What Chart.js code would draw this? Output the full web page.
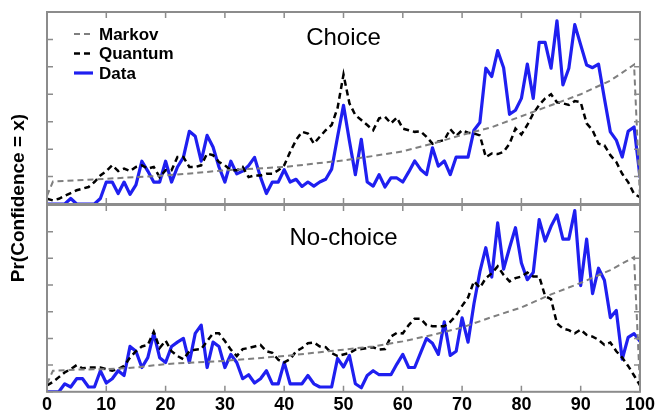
<!DOCTYPE html>
<html>
<head>
<meta charset="utf-8">
<script src="https://cdn.jsdelivr.net/npm/chart.js@4.4.1/dist/chart.umd.min.js"></script>
<style>
html, body { margin: 0; padding: 0; background: #fff; overflow: hidden; }
#wrap { position: relative; width: 666px; height: 418px; }
#wrap canvas { position: absolute; left: 0; top: 0; }
</style>
</head>
<body>
<div id="wrap">
  <canvas id="noChoiceChart" width="666" height="418"></canvas>
  <canvas id="choiceChart" width="666" height="418"></canvas>
</div>
<script>
// confidence levels on the x axis
const confidence = Array.from({length: 101}, (_, i) => i);
const xTicks = [0, 10, 20, 30, 40, 50, 60, 70, 80, 90, 100];
const yTicks = [0, 1, 2, 3, 4, 5, 6, 7]; // unlabelled tick marks

// ---- Choice panel ----
const choiceData = [
  0, 0, 0, 0, 0.2, 0, 0, 0, 0, 0.2,
  0.8, 0.8, 0.38, 0.8, 0.35, 0.7, 1.56, 1.2, 0.8, 0.8,
  1.56, 0.8, 1.35, 1.7, 2.65, 2.47, 1.56, 2.5, 2.08, 1.35,
  0.8, 1.56, 1.1, 1.2, 1.4, 1.7, 0.98, 0.38, 0.8, 0.8,
  1.25, 0.8, 0.9, 0.64, 0.8, 0.65, 0.8, 0.9, 1.27, 2.45,
  3.6, 2.3, 1.07, 2.36, 0.8, 0.65, 1.07, 0.62, 0.95, 0.95,
  0.8, 1.17, 1.57, 1.26, 1.07, 2.05, 1.38, 1.57, 1.07, 1.71,
  1.71, 1.71, 2.69, 2.97, 4.95, 4.65, 5.59, 4.97, 3.27, 3.42,
  3.85, 5.1, 3.85, 5.89, 5.89, 4.95, 6.68, 4.34, 4.95, 6.54,
  5.8, 5.07, 4.97, 5.1, 3.85, 2.63, 2.33, 1.71, 2.65, 2.81,
  0.98
];
const choiceQuantum = [
  0.19, 0.13, 0.19, 0.3, 0.4, 0.5, 0.56, 0.62, 0.8, 1.04,
  1.2, 1.41, 1.2, 1.29, 1.2, 1.35, 1.41, 1.29, 1.35, 0.98,
  1.23, 1.23, 1.71, 1.71, 1.35, 1.35, 1.41, 1.84, 1.78, 1.53,
  1.41, 1.23, 1.23, 1.35, 0.98, 1.04, 1.04, 1.1, 1.1, 1.23,
  1.41, 1.9, 2.33, 2.63, 2.57, 2.2, 2.45, 2.69, 2.88, 3.5,
  4.72, 3.67, 3.24, 3.06, 2.88, 2.69, 3.12, 3.18, 2.94, 3.15,
  2.75, 2.69, 2.63, 2.65, 2.45, 2.2, 2.28, 2.33, 2.73, 2.48,
  2.69, 2.6, 2.57, 2.5, 1.71, 1.84, 1.82, 1.9, 2.2, 2.75,
  2.53, 2.88, 3.3, 3.61, 3.85, 4.0, 3.71, 3.67, 3.61, 3.75,
  3.71, 2.94, 2.69, 2.2, 2.14, 1.78, 1.53, 1.1, 0.8, 0.37,
  0.25
];
const markovX = [0, 1, 5, 10, 15, 20, 25, 30, 35, 40, 45, 50, 55, 60, 65, 70, 75, 80, 85, 90, 95, 99, 100];
const choiceMarkov = [0.3, 0.82, 0.86, 0.92, 0.98, 1.04, 1.13, 1.23, 1.29, 1.35, 1.47, 1.59, 1.75, 1.92, 2.2, 2.52, 2.8, 3.2, 3.6, 4.0, 4.5, 5.08, 0.2];

// ---- No-choice panel ----
const noChoiceData = [
  0, 0, 0, 0.3, 0.18, 0.49, 0.49, 0.18, 0.18, 0.79,
  0.33, 0.49, 0.79, 0.61, 1.7, 1.52, 0.91, 1.28, 2.19, 1.28,
  1.1, 1.7, 1.86, 2.0, 1.1, 2.19, 2.5, 0.91, 1.86, 1.7,
  0.91, 1.4, 1.1, 0.49, 0.64, 0.33, 0.49, 0.79, 0.3, 0.3,
  1.1, 0.3, 0.3, 0.3, 0.61, 0.3, 0.18, 0.18, 0.18, 1.25,
  0.93, 1.36, 0.3, 0.15, 0.61, 0.79, 0.64, 0.64, 0.64, 1.04,
  1.4, 0.91, 0.91, 1.46, 2.0, 1.82, 1.4, 2.62, 1.36, 1.52,
  2.77, 1.86, 3.3, 4.5, 5.4, 4.3, 6.33, 4.6, 5.4, 6.15,
  4.83, 4.2, 4.47, 6.45, 5.65, 6.2, 6.63, 5.72, 5.72, 6.79,
  3.98, 5.72, 3.68, 4.63, 4.18, 2.78, 3.05, 1.22, 2.04, 2.18,
  1.89
];
const noChoiceQuantum = [
  0.24, 0.37, 0.55, 0.73, 0.85, 1.0, 0.88, 0.91, 0.91, 0.91,
  0.85, 0.79, 0.85, 0.97, 1.28, 1.52, 1.7, 1.76, 2.25, 1.64,
  1.92, 1.52, 1.34, 1.22, 1.52, 1.58, 1.6, 1.9, 2.19, 2.19,
  1.9, 1.58, 1.34, 1.6, 1.64, 1.7, 1.76, 1.52, 1.46, 1.2,
  1.1, 1.22, 1.52, 1.64, 1.82, 1.85, 1.7, 1.67, 1.45, 1.34,
  1.4, 1.45, 1.58, 1.6, 1.64, 1.67, 1.58, 1.6, 2.07, 2.21,
  2.19, 2.5, 2.74, 2.74, 2.5, 2.46, 2.46, 2.46, 2.62, 2.86,
  3.22, 3.53, 4.14, 3.9, 4.26, 4.44, 4.7, 4.38, 4.14, 4.26,
  4.32, 4.47, 4.32, 4.32, 3.59, 3.47, 2.56, 2.37, 2.31, 2.19,
  2.33, 2.13, 2.07, 1.95, 1.76, 1.85, 1.52, 1.28, 0.97, 0.61,
  0.24
];
const noChoiceMarkov = [0.3, 0.79, 0.83, 0.85, 0.91, 1.04, 1.1, 1.16, 1.25, 1.34, 1.46, 1.58, 1.7, 1.89, 2.13, 2.41, 2.8, 3.16, 3.65, 4.08, 4.56, 5.05, 0.2];

const legendItems = [
  {label: 'Markov', color: '#7f7f7f', width: 2, dash: [6, 4]},
  {label: 'Quantum', color: '#000000', width: 2.5, dash: [6, 4]},
  {label: 'Data', color: '#1f1ff0', width: 3.2, dash: []}
];

const FRAME = '#8c8c8c';

// frame, inward ticks, panel title (and legend + y title on the top panel)
const panelDecor = {
  id: 'panelDecor',
  afterDraw(chart, args, opts) {
    const {ctx, chartArea: a, scales} = chart;
    const x = scales.x, y = scales.y;
    ctx.save();
    ctx.strokeStyle = FRAME;
    ctx.lineWidth = 2;
    ctx.strokeRect(a.left, a.top, a.right - a.left, a.bottom - a.top);
    ctx.lineWidth = 1.5;
    ctx.beginPath();
    xTicks.forEach(v => {
      const px = x.getPixelForValue(v);
      ctx.moveTo(px, a.top); ctx.lineTo(px, a.top + 6);
      ctx.moveTo(px, a.bottom); ctx.lineTo(px, a.bottom - 6);
    });
    yTicks.forEach(v => {
      const py = y.getPixelForValue(v);
      ctx.moveTo(a.left, py); ctx.lineTo(a.left + 6, py);
      ctx.moveTo(a.right, py); ctx.lineTo(a.right - 6, py);
    });
    ctx.stroke();

    ctx.fillStyle = '#000';
    ctx.font = '24px Arial, "Liberation Sans"';
    ctx.textAlign = 'center';
    ctx.textBaseline = 'alphabetic';
    ctx.fillText(opts.title, x.getPixelForValue(50), a.top + opts.titleOffset);

    if (opts.legend) {
      ctx.font = 'bold 17px Arial, "Liberation Sans"';
      ctx.textAlign = 'left';
      ctx.textBaseline = 'middle';
      legendItems.forEach((it, i) => {
        const ly = 34 + i * 19.5;
        ctx.strokeStyle = it.color;
        ctx.lineWidth = it.width;
        ctx.setLineDash(it.dash);
        ctx.beginPath();
        ctx.moveTo(74, ly); ctx.lineTo(93, ly);
        ctx.stroke();
        ctx.setLineDash([]);
        ctx.fillText(it.label, 99, ly + 1);
      });
    }
    if (opts.yTitle) {
      ctx.translate(19, 198);
      ctx.rotate(-Math.PI / 2);
      ctx.font = 'bold 19px Arial, "Liberation Sans"';
      ctx.textAlign = 'center';
      ctx.textBaseline = 'middle';
      ctx.fillText(opts.yTitle, 0, 0);
    }
    ctx.restore();
  }
};

function buildDatasets(data, quantum, markov) {
  return [
    {
      label: 'Markov',
      data: markovX.map((c, i) => ({x: c, y: markov[i]})),
      borderColor: '#7f7f7f', borderWidth: 2, borderDash: [6, 4]
    },
    {
      label: 'Quantum',
      data: confidence.map((c, i) => ({x: c, y: quantum[i]})),
      borderColor: '#000000', borderWidth: 2.5, borderDash: [6, 4]
    },
    {
      label: 'Data',
      data: confidence.map((c, i) => ({x: c, y: data[i]})),
      borderColor: '#1f1ff0', borderWidth: 3.2, borderJoinStyle: 'round', borderCapStyle: 'round'
    }
  ];
}

function buildOptions(padding, showX, decor) {
  return {
    responsive: false,
    animation: false,
    devicePixelRatio: 1,
    layout: {padding: padding},
    elements: {point: {radius: 0}, line: {tension: 0}},
    plugins: {legend: {display: false}, tooltip: {enabled: false}, panelDecor: decor},
    scales: {
      x: {
        type: 'linear', min: 0, max: 100, display: showX,
        grid: {display: false, drawTicks: false},
        border: {display: false},
        ticks: {
          stepSize: 10, maxRotation: 0, autoSkip: false, padding: 5, color: '#000',
          font: {family: 'Arial, "Liberation Sans"', size: 18, weight: 'bold', lineHeight: 0.9}
        }
      },
      y: {min: 0, max: 7, display: false}
    }
  };
}

new Chart(document.getElementById('choiceChart'), {
  type: 'line',
  data: {datasets: buildDatasets(choiceData, choiceQuantum, choiceMarkov)},
  options: buildOptions({top: 12, left: 47, right: 26, bottom: 214}, false,
    {title: 'Choice', titleOffset: 33, legend: true, yTitle: 'Pr(Confidence = x)'}),
  plugins: [panelDecor]
});

new Chart(document.getElementById('noChoiceChart'), {
  type: 'line',
  data: {datasets: buildDatasets(noChoiceData, noChoiceQuantum, noChoiceMarkov)},
  options: buildOptions({top: 205, left: 47, right: 26, bottom: 0}, true,
    {title: 'No-choice', titleOffset: 40, legend: false}),
  plugins: [panelDecor]
});
</script>
</body>
</html>
